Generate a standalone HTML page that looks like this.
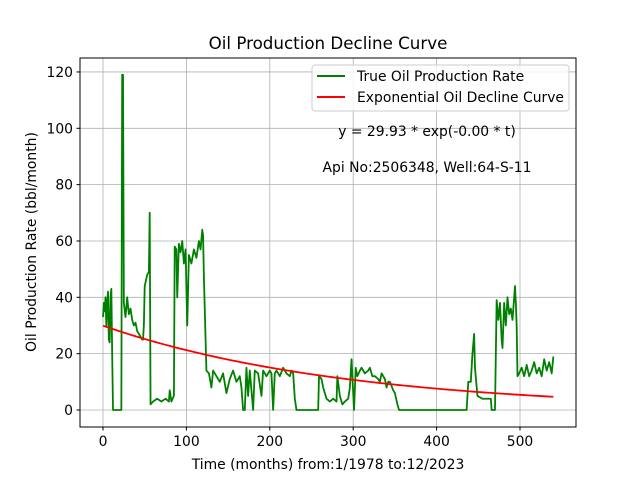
<!DOCTYPE html>
<html><head><meta charset="utf-8"><style>
body{margin:0;background:#fff}
svg{display:block;font-family:"DejaVu Sans","Liberation Sans",sans-serif}
</style></head><body>
<svg id="c" width="640" height="480" xmlns="http://www.w3.org/2000/svg">
<rect width="640" height="480" fill="#fff"/>
<text x="328" y="49" text-anchor="middle" font-size="16.7">Oil Production Decline Curve</text>
<g id="grid"></g>
<g id="series"></g>
<rect x="80" y="58" width="496" height="369" fill="none" stroke="#000" stroke-width="1"/>
<g id="ticks" font-size="13.9"></g>
<text x="328" y="469" text-anchor="middle" font-size="13.9">Time (months) from:1/1978 to:12/2023</text>
<text transform="translate(36,242) rotate(-90)" text-anchor="middle" font-size="13.9">Oil Production Rate (bbl/month)</text>
<g>
<rect x="312" y="65" width="257" height="46" rx="3" fill="#fff" fill-opacity="0.8" stroke="#ccc"/>
<line x1="317" y1="76" x2="345" y2="76" stroke="green" stroke-width="2"/>
<text x="357" y="81" font-size="13.9">True Oil Production Rate</text>
<line x1="317" y1="97" x2="345" y2="97" stroke="red" stroke-width="2"/>
<text x="357" y="102" font-size="13.9">Exponential Oil Decline Curve</text>
</g>
<text x="427" y="136" text-anchor="middle" font-size="13.9">y = 29.93 * exp(-0.00 * t)</text>
<text x="427" y="172" text-anchor="middle" font-size="13.9">Api No:2506348, Well:64-S-11</text>
</svg>
<script>
const months=[0,1,2,3,4,5,6,7,8,9,10,11,12,22,23,24,25,27,29,31,33,35,37,39,41,43,45,47,48,49,50,53,55,56,57,60,65,70,75,79,80,82,85,86,88,89,91,93,95,97,99,101,103,106,109,112,115,117,119,120,121,124,127,130,132,136,140,144,148,152,156,160,164,166,168,170,172,174,176,180,182,186,190,192,196,200,202,204,206,208,212,216,220,224,226,228,230,232,258,259,262,264,268,272,276,280,281,284,287,290,294,296,298,301,303,305,308,310,314,318,320,323,326,330,332,334,338,340,342,344,348,350,353,355,436,438,441,443,445,446,449,455,460,465,466,468,470,472,474,476,478,479,481,483,485,487,489,491,494,495,496,497,499,502,505,508,511,514,517,520,523,526,529,532,535,538,540];
const rates=[33,38,35,40,30,38,42,25,24,40,43,20,0,0,119,119,38,33,40,34,36,32,30,31,28,27,26,25,25,30,44,48,49,70,2,3,4,3,4,3,7,3,5,58,57,40,59,56,60,52,57,30,55,52,57,54,60,57,64,62,47,14,13,8,14,12,10,13,6,11,14,10,12,8,0,0,15,5,14,0,14,13,5,14,12,14,13,0,13,14,12,15,13,12,14,13,4,0,0,12,11,8,4,3,4,3,12,5,2,3,4,8,18,0,15,12,14,15,13,14,15,12,12,11,10,13,11,8,10,10,7,6,2,0,0,10,10,20,27,15,5,4,4,4,0,0,0,39,32,38,25,22,38,30,40,34,36,32,44,38,30,12,13,15,12,16,12,14,17,13,15,12,18,14,17,13,19,14,13];
const tickX=[0,100,200,300,400,500];
const tickY=[0,20,40,60,80,100,120];
const fitA=29.93, fitB=0.00343;
const X=t=>103+t*0.834;
const Y=v=>410-v*2.817;
const NS="http://www.w3.org/2000/svg";
const grid=document.getElementById('grid'), ticks=document.getElementById('ticks'), ser=document.getElementById('series');
function mk(tag,attrs,parent){const e=document.createElementNS(NS,tag);for(const k in attrs)e.setAttribute(k,attrs[k]);parent.appendChild(e);return e;}
tickX.forEach(t=>{
  const g=mk('line',{x1:X(t),x2:X(t),y1:58,y2:427,stroke:'#b0b0b0','stroke-width':0.8},grid);
  
  
  const tk=mk('line',{x1:X(t),x2:X(t),y1:427,y2:430.5,stroke:'#000'},ticks);
  
  
  const tx=mk('text',{x:X(t),y:446,'text-anchor':'middle'},ticks);tx.textContent=t;
  
  
});
tickY.forEach(v=>{
  const g=mk('line',{x1:80,x2:576,y1:Y(v),y2:Y(v),stroke:'#b0b0b0','stroke-width':0.8},grid);
  
  
  const tk=mk('line',{x1:76.5,x2:80,y1:Y(v),y2:Y(v),stroke:'#000'},ticks);
  
  
  const tx=mk('text',{x:73,y:Y(v)+5,'text-anchor':'end'},ticks);tx.textContent=v;
  
  
});
const p=mk('polyline',{points:months.map((t,i)=>X(t)+','+Y(rates[i])).join(' '),fill:'none',stroke:'green','stroke-width':1.8,'stroke-linejoin':'round'},ser);


const fp=[];for(let t=0;t<=540;t+=5)fp.push(X(t)+','+Y(fitA*Math.exp(-fitB*t)));
const f=mk('polyline',{points:fp.join(' '),fill:'none',stroke:'red','stroke-width':1.8},ser);


</script>
</body></html>
